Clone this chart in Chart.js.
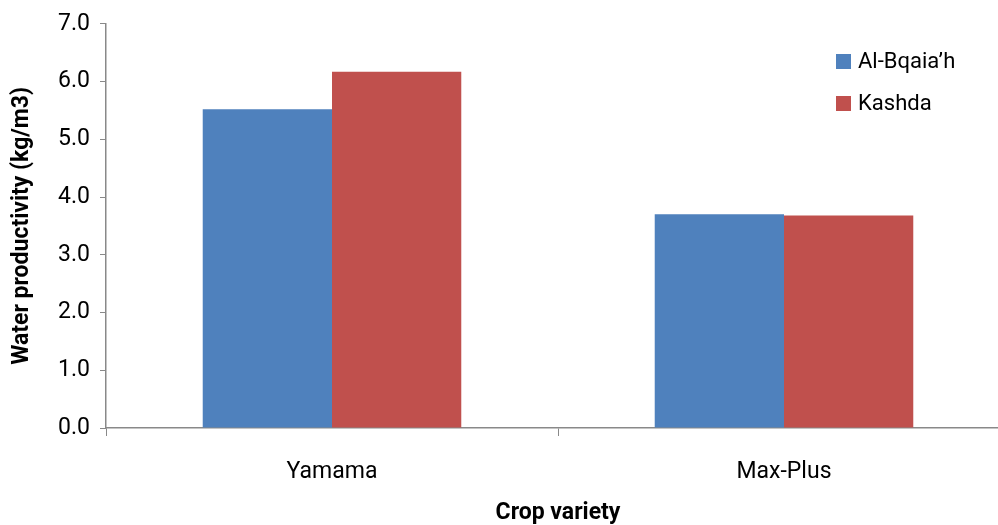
<!DOCTYPE html>
<html>
<head>
<meta charset="utf-8">
<script src="https://cdn.jsdelivr.net/npm/chart.js@4.4.1/dist/chart.umd.min.js"></script>
<style>
  html, body { margin: 0; padding: 0; background: #fff; overflow: hidden; }
  #wrap { width: 1010px; height: 531px; }
</style>
</head>
<body>
<div id="wrap"><canvas id="chart"></canvas></div>
<script>
// chart data
const categories = ['Yamama', 'Max-Plus'];
const alBqaiah = [5.52, 3.70];
const kashda = [6.17, 3.68];
const seriesNames = ['Al-Bqaia\u2019h', 'Kashda'];
const yTicks = [0, 1, 2, 3, 4, 5, 6, 7];

const FONT = "Roboto, 'Open Sans', sans-serif";
const AXIS = '#898989';

// legend drawn inside the plot, top right
const insideLegend = {
    id: 'insideLegend',
    afterDraw(chart) {
        const ctx = chart.ctx;
        ctx.save();
        ctx.font = '22px ' + FONT;
        ctx.textBaseline = 'middle';
        chart.data.datasets.forEach((ds, i) => {
            const y = 61 + i * 42;
            ctx.fillStyle = ds.backgroundColor;
            ctx.fillRect(836, y - 7, 15, 15);
            ctx.fillStyle = '#000';
            ctx.fillText(ds.label, 858, y + 1);
        });
        ctx.restore();
    }
};

const ctx = document.getElementById('chart').getContext('2d');
new Chart(ctx, {
    type: 'bar',
    data: {
        labels: categories,
        datasets: [
            { label: seriesNames[0], data: alBqaiah, backgroundColor: '#4F81BD' },
            { label: seriesNames[1], data: kashda, backgroundColor: '#C0504D' }
        ]
    },
    options: {
        responsive: true,
        maintainAspectRatio: false,
        animation: false,
        layout: { padding: { top: 8, left: 8, right: 0, bottom: 0 } },
        datasets: { bar: { categoryPercentage: 0.572, barPercentage: 1.0 } },
        plugins: {
            legend: { display: false },
            tooltip: { enabled: false }
        },
        scales: {
            x: {
                grid: { display: true, drawOnChartArea: false, color: AXIS, tickLength: 8, offset: true },
                border: { color: AXIS, width: 1.5 },
                ticks: { color: '#000', font: { family: FONT, size: 23 }, padding: 22 },
                title: { display: true, text: 'Crop variety', color: '#000', font: { family: FONT, size: 23, weight: 'bold' }, padding: { top: 8, bottom: 4 } },
                afterFit(scale) { scale.height = 103; }
            },
            y: {
                min: 0,
                max: 7,
                afterBuildTicks(scale) { scale.ticks = yTicks.map(v => ({ value: v })); },
                grid: { display: true, drawOnChartArea: false, color: AXIS, tickLength: 6 },
                border: { color: AXIS, width: 1.5 },
                ticks: {
                    color: '#000',
                    font: { family: FONT, size: 23 },
                    padding: 10,
                    callback: v => Number(v).toFixed(1)
                },
                title: { display: true, text: 'Water productivity (kg/m3)', color: '#000', font: { family: FONT, size: 23, weight: 'bold' }, padding: 0 },
                afterFit(scale) { scale.width = 98; }
            }
        }
    },
    plugins: [insideLegend]
});
</script>
</body>
</html>
